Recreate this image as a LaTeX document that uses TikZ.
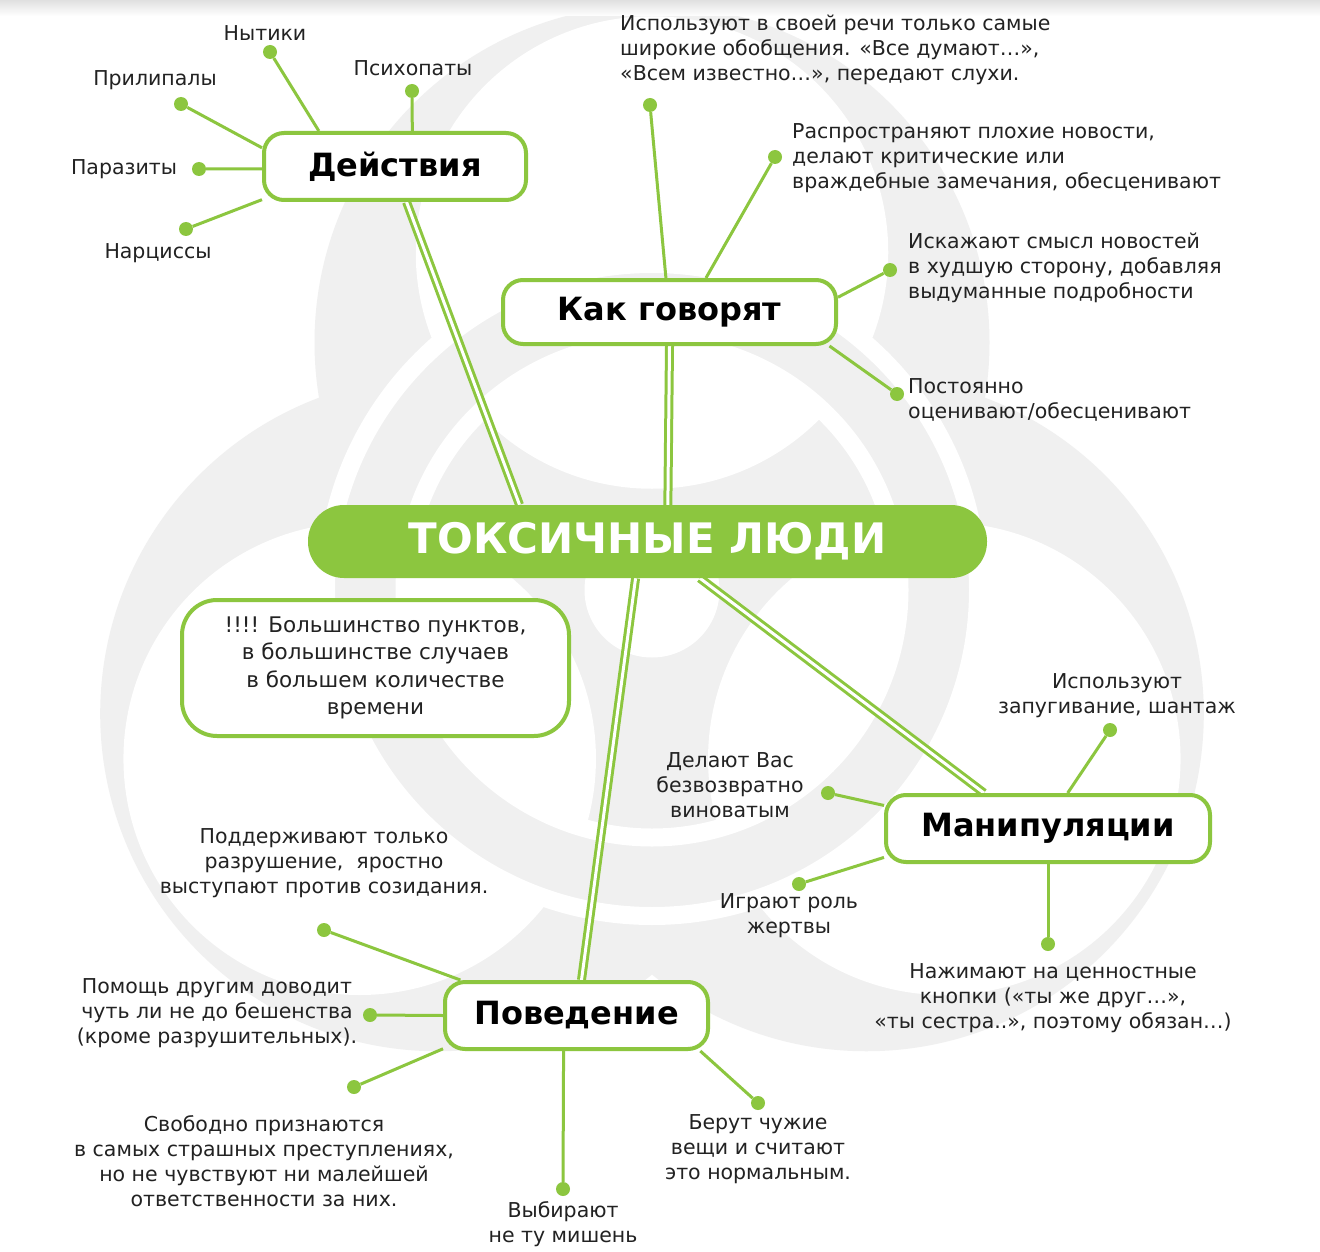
\documentclass[tikz,border=0pt]{standalone}
\usepackage{fontspec}
\setmainfont{DejaVu Sans}
\usetikzlibrary{calc}
\definecolor{grn}{HTML}{8CC63F}
\definecolor{biog}{HTML}{F0F0F0}
\definecolor{txt}{HTML}{222222}
\pgfdeclarelayer{biolayer}
\pgfdeclarelayer{linklayer}
\pgfsetlayers{biolayer,linklayer,main}
\begin{document}
\begin{tikzpicture}[x=1pt,y=-1pt,
  lbl/.style={inner sep=0pt, align=center, text=txt, font=\fontsize{20.5}{25}\selectfont},
  lbll/.style={lbl, align=left, anchor=west},
  hdr/.style={draw=grn, line width=4pt, rounded corners=20pt, fill=white, text=black,
              font=\fontsize{32}{36}\selectfont\bfseries},
  ttl/.style={fill=grn, rounded corners=36pt, minimum width=679pt, minimum height=73pt,
              text=white, font=\fontsize{42}{46}\selectfont\bfseries},
  notebox/.style={draw=grn, line width=4pt, rounded corners=35pt, fill=white, align=center,
              minimum width=387pt, minimum height=136pt, text=txt,
              font=\fontsize{21.5}{27.5}\selectfont},
  dotn/.style={circle, fill=grn, minimum size=14pt, inner sep=0pt},
  link/.style={draw=grn, line width=3pt},
  dbl/.style={draw=grn, line width=3pt, double=white, double distance=3pt},
]
\useasboundingbox (0,0) rectangle (1320,1252);

% background biohazard
\begin{pgfonlayer}{biolayer}
  \fill[white] (0,0) rectangle (1320,1252);
  \begin{scope}
    \clip (0,0) rectangle (1320,1252);
    \fill[biog] (652,342.5) circle[radius=337.5] (437.7,713.75) circle[radius=337.5] (866.3,713.75) circle[radius=337.5];
    \fill[white] (652,252.5) circle[radius=236.25] (359.7,758.75) circle[radius=236.25] (944.3,758.75) circle[radius=236.25];
    \draw[white, line width=18pt, fill=biog, even odd rule] (652,590) circle[radius=326] (652,590) circle[radius=247.5];
    \fill[white] (652,590) circle[radius=67.5];
    \shade[top color=black!12, bottom color=white] (0,0) rectangle (1320,16);
  \end{scope}
\end{pgfonlayer}

% main nodes
\node[ttl] (tl) at (647.5,541.5) {ТОКСИЧНЫЕ ЛЮДИ};
\node[hdr, minimum width=262pt, minimum height=67pt] (act) at (395,166.5) {Действия};
\node[hdr, minimum width=333pt, minimum height=64pt] (kak) at (669.5,312) {Как говорят};
\node[hdr, minimum width=324pt, minimum height=67pt] (man) at (1048,828.5) {Манипуляции};
\node[hdr, minimum width=263pt, minimum height=67pt] (pov) at (576.5,1015.5) {Поведение};
\node[notebox] (nb) at (375.5,668) {!!!! Большинство пунктов,\\в большинстве случаев\\в большем количестве\\времени};

% dots
\node[dotn] (a1) at (270,52) {};
\node[dotn] (a2) at (412,91) {};
\node[dotn] (a3) at (181,104) {};
\node[dotn] (a4) at (199,169) {};
\node[dotn] (a5) at (186,229) {};
\node[dotn] (k1) at (650,105) {};
\node[dotn] (k2) at (775,157) {};
\node[dotn] (k3) at (890,270) {};
\node[dotn] (k4) at (897,394) {};
\node[dotn] (m1) at (1110,730) {};
\node[dotn] (m2) at (828,793) {};
\node[dotn] (m3) at (799,884) {};
\node[dotn] (m4) at (1048,944) {};
\node[dotn] (p1) at (324,930) {};
\node[dotn] (p2) at (370,1015) {};
\node[dotn] (p3) at (354,1087) {};
\node[dotn] (p4) at (563,1189) {};
\node[dotn] (p5) at (758,1103) {};

% labels
\node[lbl] (la1) at (265,33) {Нытики};
\node[lbl] (la2) at (413,68) {Психопаты};
\node[lbl] (la3) at (155,80) {Прилипалы};
\node[lbl] (la4) at (124,169) {Паразиты};
\node[lbl] (la5) at (158,253) {Нарциссы};

\node[lbll] (lk1) at (620,50) {Используют в своей речи только самые\\широкие обобщения. «Все думают…»,\\«Всем известно…», передают слухи.};
\node[lbll] (lk2) at (792,158) {Распространяют плохие новости,\\делают критические или\\враждебные замечания, обесценивают};
\node[lbll] (lk3) at (908,268) {Искажают смысл новостей\\в худшую сторону, добавляя\\выдуманные подробности};
\node[lbll] (lk4) at (908,400) {Постоянно\\оценивают/обесценивают};

\node[lbl] (lm1) at (1117,696) {Используют\\запугивание, шантаж};
\node[lbl] (lm2) at (730,785) {Делают Вас\\безвозвратно\\виноватым};
\node[lbl] (lm3) at (789,916) {Играют роль\\жертвы};
\node[lbl] (lm4) at (1053,998) {Нажимают на ценностные\\кнопки («ты же друг…»,\\«ты сестра..», поэтому обязан…)};

\node[lbl] (lp1) at (324,863) {Поддерживают только\\разрушение,\ \ яростно\\выступают против созидания.};
\node[lbl] (lp2) at (217,1013) {Помощь другим доводит\\чуть ли не до бешенства\\(кроме разрушительных).};
\node[lbl] (lp3) at (264,1161) {Свободно признаются\\в самых страшных преступлениях,\\но не чувствуют ни малейшей\\ответственности за них.};
\node[lbl] (lp4) at (563,1224) {Выбирают\\не ту мишень};
\node[lbl] (lp5) at (758,1149) {Берут чужие\\вещи и считают\\это нормальным.};

% connectors
\begin{pgfonlayer}{linklayer}
  \draw[dbl] (act.288) -- (tl.164);
  \draw[dbl] (kak.270) -- (tl.61);
  \draw[dbl] (tl.325) -- (man.151);
  \draw[dbl] (tl.252) -- (pov.82);

  \draw[link] (a1) -- (act.155);
  \draw[link] (a2) -- (act.64);
  \draw[link] (a3) -- (act.172);
  \draw[link] (a4) -- (act.181);
  \draw[link] (a5) -- (act.194);

  \draw[link] (k1) -- (kak.96.7);
  \draw[link] (k2) -- (kak.43.4);
  \draw[link] (k3) -- (kak.5);
  \draw[link] (k4) -- (kak.348);

  \draw[link] (m1) -- (man.61.5);
  \draw[link] (m2) -- (man.172);
  \draw[link] (m3) -- (man.190);
  \draw[link] (m4) -- (man.270);

  \draw[link] (p1) -- (pov.163);
  \draw[link] (p2) -- (pov.180);
  \draw[link] (p3) -- (pov.194);
  \draw[link] (p4) -- (pov.250);
  \draw[link] (p5) -- (pov.344);
\end{pgfonlayer}
\end{tikzpicture}
\end{document}
